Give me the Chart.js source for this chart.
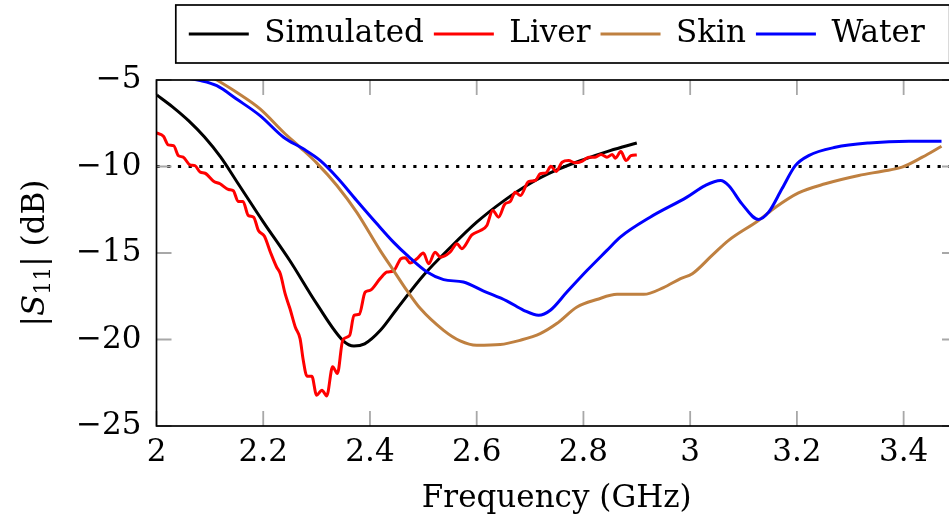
<!DOCTYPE html>
<html>
<head>
<meta charset="utf-8">
<script src="https://cdn.jsdelivr.net/npm/chart.js@4.4.1/dist/chart.umd.min.js"></script>
<style>
  html, body { margin: 0; padding: 0; background: #fff; overflow: hidden; }
  #wrap { width: 958px; height: 528px; }
</style>
</head>
<body>
<div id="wrap"><canvas id="s11Chart" width="958" height="528"></canvas></div>
<script>
// ---- values: frequency (GHz) / |S11| (dB) ----
const simFreq = [2.00, 2.03, 2.06, 2.09, 2.12, 2.15, 2.20, 2.25, 2.30, 2.35, 2.37, 2.39, 2.42, 2.45, 2.50, 2.55, 2.60, 2.65, 2.70, 2.75, 2.80, 2.85, 2.90];
const simDb   = [-5.85, -6.55, -7.35, -8.3, -9.45, -10.85, -13.2, -15.45, -17.93, -20.08, -20.38, -20.25, -19.45, -18.25, -16.3, -14.7, -13.22, -12.0, -10.98, -10.2, -9.6, -9.08, -8.64];

const liverFreq = [2.000, 2.013, 2.022, 2.032, 2.041, 2.050, 2.063, 2.072, 2.082, 2.091, 2.107, 2.119, 2.135, 2.144, 2.153, 2.162, 2.172, 2.182, 2.191, 2.202,
  2.214, 2.225, 2.232, 2.241, 2.250, 2.260, 2.269, 2.275, 2.282, 2.291, 2.300, 2.310, 2.319, 2.330, 2.339, 2.349, 2.362, 2.370, 2.380, 2.391,
  2.400, 2.419, 2.432, 2.444, 2.458, 2.466, 2.475, 2.488, 2.500, 2.510, 2.522, 2.532, 2.550, 2.563, 2.572, 2.591, 2.607, 2.619, 2.630, 2.641,
  2.653, 2.663, 2.672, 2.682, 2.697, 2.710, 2.719, 2.730, 2.739, 2.749, 2.760, 2.772, 2.785, 2.797, 2.810, 2.822, 2.833, 2.844, 2.854, 2.860,
  2.870, 2.880, 2.889, 2.900];
const liverDb = [-8.06, -8.25, -8.75, -8.79, -9.37, -9.46, -9.91, -9.95, -10.33, -10.39, -10.85, -11.0, -11.33, -11.4, -12.02, -12.02, -12.83, -12.93, -13.7, -14.02,
  -15.0, -15.81, -16.2, -17.35, -18.21, -19.28, -19.95, -21.2, -22.12, -22.12, -23.22, -22.93, -23.26, -21.58, -21.97, -20.04, -19.76, -18.6, -18.54, -17.26,
  -17.16, -16.48, -16.1, -16.04, -15.33, -15.27, -15.58, -15.33, -15.0, -15.62, -14.95, -15.24, -14.95, -14.46, -14.75, -13.95, -13.7, -13.41, -12.54, -12.93,
  -12.16, -12.02, -11.49, -11.68, -10.87, -10.81, -10.42, -10.37, -9.99, -10.29, -9.75, -9.66, -9.79, -9.71, -9.46, -9.46, -9.31, -9.46, -9.31, -9.52,
  -9.14, -9.66, -9.37, -9.33];

const skinFreq = [2.000, 2.060, 2.113, 2.150, 2.194, 2.238, 2.269, 2.300, 2.338, 2.375, 2.419, 2.444, 2.469, 2.494, 2.538, 2.569, 2.600, 2.644, 2.682, 2.719,
  2.750, 2.788, 2.825, 2.863, 2.913, 2.950, 2.982, 3.004, 3.041, 3.072, 3.128, 3.160, 3.203, 3.253, 3.316, 3.360, 3.397, 3.435, 3.471];
const skinDb = [-3.0, -4.05, -5.0, -5.71, -6.67, -8.02, -8.89, -9.79, -11.1, -12.64, -14.85, -16.0, -17.16, -18.2, -19.47, -20.08, -20.33, -20.29, -20.04, -19.66,
  -19.08, -18.12, -17.69, -17.39, -17.39, -17.0, -16.48, -16.2, -15.14, -14.27, -13.12, -12.35, -11.52, -11.0, -10.52, -10.27, -10.04, -9.46, -8.83];

const waterFreq = [2.000, 2.050, 2.080, 2.113, 2.150, 2.194, 2.238, 2.275, 2.307, 2.338, 2.375, 2.413, 2.444, 2.472, 2.507, 2.538, 2.575, 2.613, 2.657, 2.688,
  2.716, 2.738, 2.769, 2.807, 2.844, 2.869, 2.925, 2.994, 3.028, 3.057, 3.072, 3.097, 3.128, 3.147, 3.172, 3.197, 3.222, 3.272, 3.335, 3.410, 3.471];
const waterDb = [-4.6, -4.85, -5.02, -5.33, -6.1, -7.06, -8.31, -8.98, -9.66, -10.62, -11.96, -13.31, -14.37, -15.2, -16.1, -16.54, -16.68, -17.2, -17.78, -18.31,
  -18.6, -18.31, -17.26, -16.0, -14.85, -14.08, -12.93, -11.77, -11.1, -10.81, -11.1, -12.16, -13.06, -12.64, -11.29, -9.95, -9.37, -8.89, -8.64, -8.54, -8.54];

const thresholdDb = -10;
const xTicks = [2, 2.2, 2.4, 2.6, 2.8, 3, 3.2, 3.4];
const yTicks = [-25, -20, -15, -10, -5];

const toPoints = (xs, ys) => xs.map((f, i) => ({ x: f, y: ys[i] }));

const FONT = "'DejaVu Serif', serif";
Chart.defaults.font.family = FONT;
Chart.defaults.font.size = 31;
Chart.defaults.color = '#000';

// frame + inward gray ticks (pgfplots look), legend box, y title with italic S and subscript
const frameAndTicks = {
    id: 'frameAndTicks',
    afterDraw(chart) {
        const { ctx, chartArea: a, scales: { x, y } } = chart;
        const len = 15;
        ctx.save();
        ctx.strokeStyle = '#a8a8a8';
        ctx.lineWidth = 1.8;
        ctx.beginPath();
        xTicks.forEach(v => {
            const px = x.getPixelForValue(v);
            ctx.moveTo(px, a.bottom); ctx.lineTo(px, a.bottom - len);
            ctx.moveTo(px, a.top); ctx.lineTo(px, a.top + len);
        });
        yTicks.forEach(v => {
            const py = y.getPixelForValue(v);
            ctx.moveTo(a.left, py); ctx.lineTo(a.left + len, py);
            ctx.moveTo(a.right, py); ctx.lineTo(a.right - len, py);
        });
        ctx.stroke();

        ctx.strokeStyle = '#000';
        ctx.lineWidth = 1.7;
        ctx.strokeRect(a.left, a.top, a.right - a.left, a.bottom - a.top);

        const boxes = chart.legend && chart.legend.legendHitBoxes;
        if (boxes && boxes.length) {
            const l = Math.min(...boxes.map(b => b.left));
            const r = Math.max(...boxes.map(b => b.left + b.width));
            ctx.strokeRect(l - 13, 5, r - l + 38, 58);
        }

        // y axis title: |S_11| (dB)
        const parts = [
            { t: '|', f: '31px ' + FONT, dy: 0 },
            { t: 'S', f: 'italic 31px ' + FONT, dy: 0 },
            { t: '11', f: '22px ' + FONT, dy: 6 },
            { t: '| (dB)', f: '31px ' + FONT, dy: 0 }
        ];
        let total = 0;
        parts.forEach(p => { ctx.font = p.f; p.w = ctx.measureText(p.t).width; total += p.w; });
        ctx.translate(33, (a.top + a.bottom) / 2);
        ctx.rotate(-Math.PI / 2);
        ctx.fillStyle = '#000';
        ctx.textBaseline = 'alphabetic';
        ctx.textAlign = 'left';
        let cx = -total / 2;
        parts.forEach(p => {
            ctx.font = p.f;
            ctx.fillText(p.t, cx, 11 + p.dy);
            cx += p.w;
        });
        ctx.restore();
    }
};

const lineStyle = (label, color, pts, order) => ({
    label: label,
    data: pts,
    borderColor: color,
    backgroundColor: color,
    borderWidth: 3,
    pointRadius: 0,
    cubicInterpolationMode: 'monotone',
    clip: 0,
    order: order
});

new Chart(document.getElementById('s11Chart'), {
    type: 'line',
    data: {
        datasets: [
            lineStyle('Simulated', '#000000', toPoints(simFreq, simDb), 4),
            lineStyle('Liver', '#ff0000', toPoints(liverFreq, liverDb), 3),
            lineStyle('Skin', '#bf8040', toPoints(skinFreq, skinDb), 2),
            lineStyle('Water', '#0000ff', toPoints(waterFreq, waterDb), 1),
            {
                label: 'threshold',
                data: [{ x: 2, y: thresholdDb }, { x: 3.5, y: thresholdDb }],
                borderColor: '#000',
                borderWidth: 3.2,
                borderDash: [3.2, 7.5],
                borderCapStyle: 'butt',
                pointRadius: 0,
                order: 5
            }
        ]
    },
    options: {
        responsive: false,
        animation: false,
        layout: { padding: { top: 8.5, right: 1, bottom: 0, left: 0 } },
        plugins: {
            tooltip: { enabled: false },
            legend: {
                position: 'top',
                fullSize: false,
                labels: {
                    boxWidth: 60,
                    boxHeight: 3,
                    padding: 10,
                    generateLabels(chart) {
                        return Chart.defaults.plugins.legend.labels.generateLabels(chart)
                            .filter(it => it.datasetIndex < 4)
                            .sort((p, q) => p.datasetIndex - q.datasetIndex)
                            .map(it => Object.assign(it, { fillStyle: it.strokeStyle, lineWidth: 0 }));
                    }
                }
            },
            // empty title used only as a spacer between legend and plot
            title: {
                display: true,
                text: '',
                weight: 500,
                font: { size: 10, lineHeight: 1 },
                padding: { top: 10.5, bottom: 0 }
            }
        },
        scales: {
            x: {
                type: 'linear',
                min: 2,
                max: 3.5,
                grid: { display: false, drawTicks: false },
                border: { display: false },
                afterBuildTicks: s => { s.ticks = xTicks.map(v => ({ value: v })); },
                afterFit: s => { s.height = 102; },
                ticks: { padding: 8, maxRotation: 0, callback: v => String(+v.toFixed(2)) },
                title: {
                    display: true,
                    text: 'Frequency (GHz)',
                    padding: { top: 0, bottom: 10 }
                }
            },
            y: {
                type: 'linear',
                min: -25,
                max: -5,
                grid: { display: false, drawTicks: false },
                border: { display: false },
                afterBuildTicks: s => { s.ticks = yTicks.map(v => ({ value: v })); },
                afterFit: s => { s.width = 156.5; },
                ticks: { padding: 15, callback: v => (v < 0 ? '\u2212' : '') + Math.abs(v) },
                title: { display: false }
            }
        }
    },
    plugins: [frameAndTicks]
});
</script>
</body>
</html>
